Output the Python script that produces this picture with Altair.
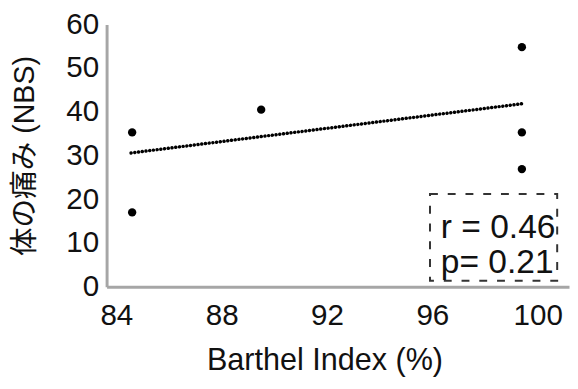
import altair as alt
import pandas as pd

# Data
barthel = [84.6, 84.6, 89.5, 99.4, 99.4, 99.4]
pain = [35.3, 17.0, 40.5, 54.8, 35.3, 26.9]

trend_x = [84.56, 99.47]
trend_y = [30.6, 41.9]

x_ticks = [84, 88, 92, 96, 100]
y_ticks = [0, 10, 20, 30, 40, 50, 60]

stats_lines = ["r = 0.46", "p= 0.21"]

pts = pd.DataFrame({"x": barthel, "y": pain})
trend = pd.DataFrame({"x": trend_x, "y": trend_y})
stats = pd.DataFrame({"t": stats_lines, "row": [0, 1]})

FONT = "Liberation Sans, Arial, Noto Sans CJK JP"

xscale = alt.Scale(domain=[83.63, 101.19], nice=False, zero=False)
yscale = alt.Scale(domain=[0, 60], nice=False)

xaxis = alt.Axis(values=x_ticks, title="Barthel Index (%)", grid=False, ticks=False,
                 domainColor="#a6a6a6", domainWidth=3, labelFontSize=30,
                 labelColor="#111111", labelFont=FONT, labelPadding=14,
                 titleFontSize=31, titleFont=FONT, titleFontWeight="normal",
                 titleColor="#111111", titlePadding=16, titleX=221)
yaxis = alt.Axis(values=y_ticks, title="体の痛み (NBS)", grid=False, ticks=False,
                 domainColor="#a6a6a6", domainWidth=3, labelFontSize=30,
                 labelColor="#111111", labelFont=FONT, labelPadding=8,
                 titleFontSize=29, titleFont=FONT, titleFontWeight="normal",
                 titleColor="#111111", titlePadding=27)

points = alt.Chart(pts).mark_circle(size=72, color="black", opacity=1).encode(
    x=alt.X("x:Q", scale=xscale, axis=xaxis),
    y=alt.Y("y:Q", scale=yscale, axis=yaxis),
)

line = alt.Chart(trend).mark_line(color="black", strokeWidth=3.5, strokeDash=[0.1, 3.7],
                                  strokeCap="round").encode(
    x=alt.X("x:Q", scale=xscale, axis=xaxis),
    y=alt.Y("y:Q", scale=yscale, axis=yaxis),
)

box = alt.Chart(pd.DataFrame({"a": [0]})).mark_rect(
    fill=None, fillOpacity=0, stroke="#333333", strokeWidth=2, strokeDash=[8, 10]
).encode(
    x=alt.value(328), x2=alt.value(457), y=alt.value(172), y2=alt.value(260)
)

txt_r = alt.Chart(stats).transform_filter("datum.row == 0").mark_text(
    align="left", baseline="alphabetic", fontSize=34, font=FONT, color="#111111"
).encode(x=alt.value(339), y=alt.value(217), text="t:N")

txt_p = alt.Chart(stats).transform_filter("datum.row == 1").mark_text(
    align="left", baseline="alphabetic", fontSize=34, font=FONT, color="#111111"
).encode(x=alt.value(339), y=alt.value(252), text="t:N")

chart = alt.layer(points, line, box, txt_r, txt_p).properties(
    width=469, height=266,
    autosize=alt.AutoSizeParams(type="none"),
    padding={"left": 100, "top": 14, "right": 1, "bottom": 93},
).configure_view(stroke=None)

chart.save("out.html", embed_options={"renderer": "svg", "actions": False})
